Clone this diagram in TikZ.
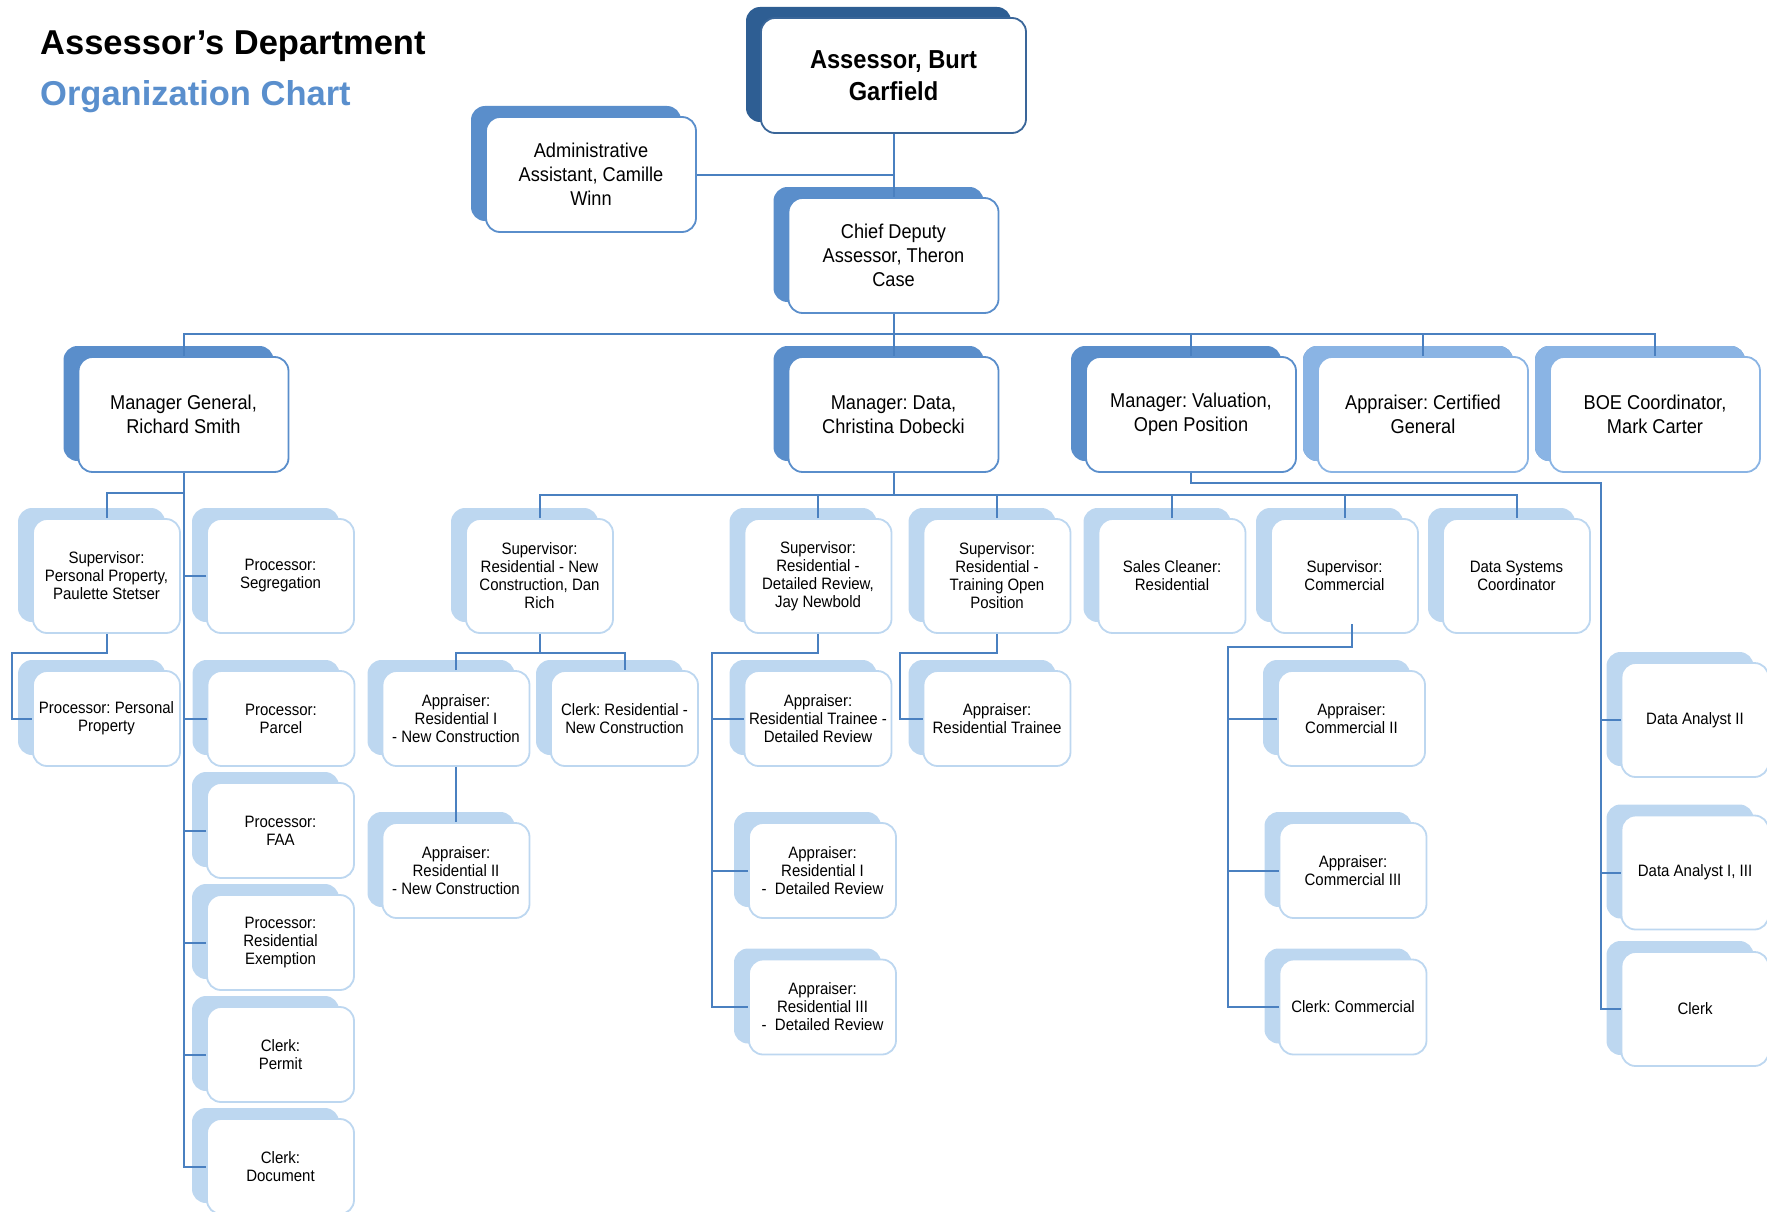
\documentclass[tikz,border=0pt]{standalone}
\usepackage{fontspec}
\setmainfont{Liberation Sans}
\newfontfamily\boxfont[FakeStretch=0.91]{Liberation Sans}
\usetikzlibrary{shadows}

\definecolor{topblue}{HTML}{2E5E93}
\definecolor{topline}{HTML}{3A6699}
\definecolor{midblue}{HTML}{5A8ECB}
\definecolor{softblue}{HTML}{8AB4E4}
\definecolor{paleblue}{HTML}{BDD7F0}
\definecolor{wireblue}{HTML}{4A80C0}
\definecolor{titleblue}{HTML}{5A8FCD}

\tikzset{
  card/.style={rectangle, rounded corners=14pt, line width=1.8pt, fill=white,
    align=center, inner sep=0pt, text=black},
  chiefcard/.style={card, draw=topline, minimum width=265pt, minimum height=115pt,
    general shadow={shadow xshift=-15pt, shadow yshift=11pt, fill=topblue},
    font=\boxfont\frenchspacing\bfseries\fontsize{26}{31.5}\selectfont},
  headcard/.style={card, draw=midblue, minimum width=210pt, minimum height=115pt,
    general shadow={shadow xshift=-15pt, shadow yshift=11pt, fill=midblue},
    font=\boxfont\frenchspacing\fontsize{20}{24}\selectfont},
  softcard/.style={headcard, draw=softblue,
    general shadow={shadow xshift=-15pt, shadow yshift=11pt, fill=softblue}},
  staffcard/.style={card, draw=paleblue, minimum width=147pt, minimum height=114pt,
    general shadow={shadow xshift=-15pt, shadow yshift=11pt, fill=paleblue},
    font=\boxfont\frenchspacing\fontsize{16.5}{18}\selectfont},
  shortcard/.style={staffcard, minimum height=95pt},
  wire/.style={draw=wireblue, line width=2pt},
}

\begin{document}
\begin{tikzpicture}[x=1pt, y=-1pt]
\useasboundingbox (0,0) rectangle (1767,1212);

% heading
\node[anchor=base west, inner sep=0pt, font=\bfseries\fontsize{34.5}{40}\selectfont] (title) at (40,55) {Assessor’s Department};
\node[anchor=base west, inner sep=0pt, text=titleblue, font=\bfseries\fontsize{34.5}{40}\selectfont] (subtitle) at (40,106) {Organization Chart};

% executive level
\node[chiefcard] (assessor) at (893.5,75.5) {Assessor, Burt\\Garfield};
\node[headcard] (admin) at (591,174.5) {Administrative\\Assistant, Camille\\Winn};
\node[headcard] (chief) at (893.5,255.5) {Chief Deputy\\Assessor, Theron\\Case};

% managers
\node[headcard] (mg) at (183.5,414.5) {Manager General,\\Richard Smith};
\node[headcard] (md) at (893.5,414.5) {Manager: Data,\\Christina Dobecki};
\node[headcard] (mv) at (1191,414.5) {Manager: Valuation,\\Open Position};
\node[softcard] (acg) at (1423,414.5) {Appraiser: Certified\\General};
\node[softcard] (boe) at (1655,414.5) {BOE Coordinator,\\Mark Carter};

% general manager's staff
\node[staffcard] (suppp) at (106.5,576) {Supervisor:\\Personal Property,\\Paulette Stetser};
\node[staffcard] (seg) at (280.5,576) {Processor:\\Segregation};
\node[shortcard] (procpp) at (106.5,718.5) {Processor: Personal\\Property};
\node[shortcard] (parcel) at (281,718.5) {Processor:\\Parcel};
\node[shortcard] (faa) at (280.5,830.5) {Processor:\\FAA};
\node[shortcard] (resex) at (280.5,942.5) {Processor:\\Residential\\Exemption};
\node[shortcard] (permit) at (280.5,1054.5) {Clerk:\\Permit};
\node[shortcard] (document) at (280.5,1166.5) {Clerk:\\Document};

% data manager's staff
\node[staffcard] (suprnc) at (539.5,576) {Supervisor:\\Residential - New\\Construction, Dan\\Rich};
\node[staffcard] (suprdr) at (818,576) {Supervisor:\\Residential -\\Detailed Review,\\Jay Newbold};
\node[staffcard] (suprt) at (997,576) {Supervisor:\\Residential -\\Training Open\\Position};
\node[staffcard] (sales) at (1172,576) {Sales Cleaner:\\Residential};
\node[staffcard] (supcomm) at (1344.5,576) {Supervisor:\\Commercial};
\node[staffcard] (dsc) at (1516.5,576) {Data Systems\\Coordinator};

\node[shortcard] (apprinc) at (456,718.5) {Appraiser:\\Residential I\\- New Construction};
\node[shortcard] (clerkrnc) at (624.5,718.5) {Clerk: Residential -\\New Construction};
\node[shortcard] (appriinc) at (456,870.5) {Appraiser:\\Residential II\\- New Construction};

\node[shortcard] (apprtdr) at (818,718.5) {Appraiser:\\Residential Trainee -\\Detailed Review};
\node[shortcard] (appridr) at (822.5,870.5) {Appraiser:\\Residential I\\-\ \ Detailed Review};
\node[shortcard] (appriiidr) at (822.5,1007) {Appraiser:\\Residential III\\-\ \ Detailed Review};

\node[shortcard] (apprt) at (997,718.5) {Appraiser:\\Residential Trainee};

\node[shortcard] (commii) at (1351.5,718.5) {Appraiser:\\Commercial II};
\node[shortcard] (commiii) at (1353,870.5) {Appraiser:\\Commercial III};
\node[shortcard] (clerkcomm) at (1353,1007) {Clerk: Commercial};

% valuation manager's staff
\node[staffcard] (daii) at (1695,720) {Data Analyst II};
\node[staffcard] (dai) at (1695,872.5) {Data Analyst I, III};
\node[staffcard] (daclerk) at (1695,1009) {Clerk};

% reporting lines: executive level
\draw[wire] (assessor.south) -- (chief.north);
\draw[wire] (admin.east) -- (admin.east -| chief.north);
\coordinate (mgrbar) at (893.5,334);
\draw[wire] (chief.south) -- (md.north);
\draw[wire] (mg.north) -- (mg.north |- mgrbar) -- (boe.north |- mgrbar) -- (boe.north);
\draw[wire] (mv.north) -- (mv.north |- mgrbar);
\draw[wire] (acg.north) -- (acg.north |- mgrbar);

% reporting lines: general manager
\draw[wire] (mg.south) -- (mg.south |- document.west) -- (document.west);
\foreach \n in {seg,parcel,faa,resex,permit}
  \draw[wire] (\n.west) -- (\n.west -| mg.south);
\draw[wire] (suppp.north) -- ++(0,-25) -| (mg.south);
\draw[wire] (suppp.south) -- ++(0,19) -- ++(-94.5,0) |- (procpp.west);

% reporting lines: data manager
\coordinate (databar) at (893.5,495);
\draw[wire] (md.south) -- (databar);
\draw[wire] (suprnc.north) -- (suprnc.north |- databar) -- (dsc.north |- databar) -- (dsc.north);
\foreach \n in {suprdr,suprt,sales,supcomm}
  \draw[wire] (\n.north) -- (\n.north |- databar);

\draw[wire] (suprnc.south) -- ++(0,19) coordinate (rncbar);
\draw[wire] (apprinc.north) -- (apprinc.north |- rncbar) -- (clerkrnc.north |- rncbar) -- (clerkrnc.north);
\draw[wire] (apprinc.south) -- (appriinc.north);

\draw[wire] (suprdr.south) -- ++(0,19) -- ++(-106,0) coordinate (rdrleft) |- (appriiidr.west);
\draw[wire] (apprtdr.west) -- (apprtdr.west -| rdrleft);
\draw[wire] (appridr.west) -- (appridr.west -| rdrleft);

\draw[wire] (suprt.south) -- ++(0,19) -- ++(-97,0) |- (apprt.west);

\coordinate (commstub) at (1352,624);
\draw[wire] (commstub) -- ++(0,23) -- ++(-124,0) coordinate (commleft) |- (clerkcomm.west);
\draw[wire] (commii.west) -- (commii.west -| commleft);
\draw[wire] (commiii.west) -- (commiii.west -| commleft);

% reporting lines: valuation manager
\draw[wire] (mv.south) -- ++(0,10) -- ++(410,0) coordinate (daleft) |- (daclerk.west);
\draw[wire] (daii.west) -- (daii.west -| daleft);
\draw[wire] (dai.west) -- (dai.west -| daleft);
\end{tikzpicture}
\end{document}
